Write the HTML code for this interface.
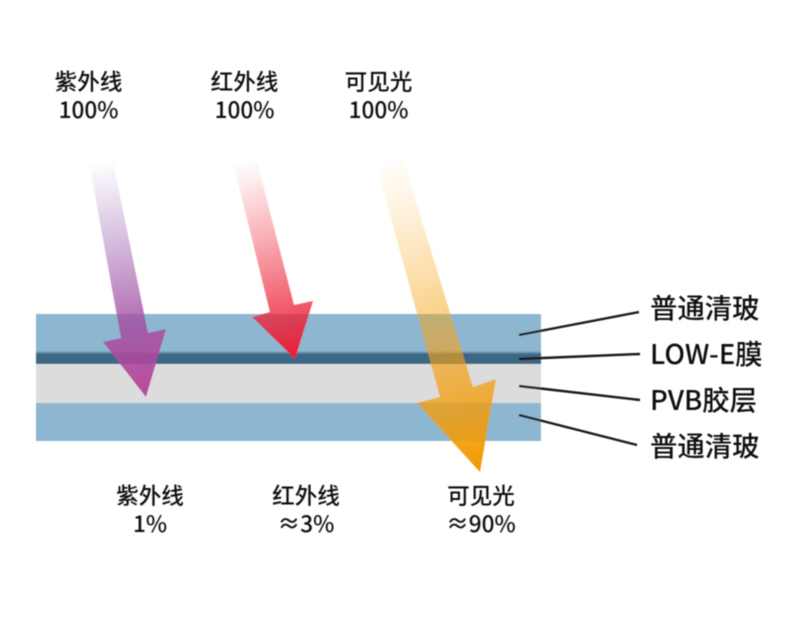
<!DOCTYPE html>
<html lang="zh">
<head>
<meta charset="utf-8">
<style>
html,body{margin:0;padding:0;background:#fff}
svg{display:block}
text{font-family:"Liberation Sans","Noto Sans CJK SC",sans-serif;fill:#111}
.t{font-family:"Noto Sans CJK SC","Liberation Sans",sans-serif;font-size:22.6px;font-weight:500;text-anchor:middle}
.r{font-family:"Noto Sans CJK SC","Liberation Sans",sans-serif;font-size:27.4px;font-weight:500}
</style>
</head>
<body>
<svg width="790" height="630" viewBox="0 0 790 630" xmlns="http://www.w3.org/2000/svg">
<defs>
<linearGradient id="p" gradientUnits="userSpaceOnUse" x1="101" y1="162" x2="146" y2="397">
<stop offset="0" stop-color="#8e5fae" stop-opacity="0"/>
<stop offset="0.35" stop-color="#9a5aaa" stop-opacity="0.42"/>
<stop offset="0.7" stop-color="#a54fa2" stop-opacity="0.85"/>
<stop offset="1" stop-color="#b8429a" stop-opacity="0.95"/>
</linearGradient>
<linearGradient id="q" gradientUnits="userSpaceOnUse" x1="245" y1="162" x2="295" y2="359">
<stop offset="0" stop-color="#ee3a4a" stop-opacity="0"/>
<stop offset="1" stop-color="#ec1c34" stop-opacity="1"/>
</linearGradient>
<linearGradient id="o" gradientUnits="userSpaceOnUse" x1="389" y1="160" x2="480" y2="472">
<stop offset="0" stop-color="#f8b133" stop-opacity="0"/>
<stop offset="1" stop-color="#f39800" stop-opacity="1"/>
</linearGradient>
<linearGradient id="band" x1="0" y1="0" x2="0" y2="1">
<stop offset="0" stop-color="#8db7d1"/>
<stop offset="0.25" stop-color="#3d6785"/>
<stop offset="1" stop-color="#3d6785"/>
</linearGradient>
<filter id="b" x="-5%" y="-5%" width="110%" height="110%"><feGaussianBlur stdDeviation="0.5"/></filter>
</defs>

<g filter="url(#b)">
<rect x="36" y="314" width="505" height="127" fill="#8db7d1"/>
<rect x="36" y="364" width="505" height="39" fill="#dcdcdc"/>
<rect x="36" y="351" width="505" height="13" fill="url(#band)"/>

<polygon points="89,162 113,162 148,333 166,329 146,397 103,342 121,338" fill="url(#p)"/>
<polygon points="233,162 257,162 294,305 313,301 295,359 252,317 270,312" fill="url(#q)"/>
<polygon points="375,160 403,160 473,387 496,379 480,472 417,403 440,397" fill="url(#o)"/>

<g stroke="#1a1718" stroke-width="2.4" fill="none">
<line x1="519" y1="335" x2="639" y2="312"/>
<line x1="519" y1="359" x2="640" y2="354"/>
<line x1="519" y1="386" x2="640" y2="400"/>
<line x1="519" y1="415" x2="637" y2="445"/>
</g>

<text class="t" x="88.5" y="90">紫外线</text>
<text class="t" x="88.5" y="118">100%</text>
<text class="t" x="244.5" y="90">红外线</text>
<text class="t" x="244.5" y="118">100%</text>
<text class="t" x="378.5" y="90">可见光</text>
<text class="t" x="378.5" y="118">100%</text>

<text class="t" x="150" y="504">紫外线</text>
<text class="t" x="150" y="532">1%</text>
<text class="t" x="306" y="504">红外线</text>
<text class="t" x="306" y="532">≈3%</text>
<text class="t" x="481" y="504">可见光</text>
<text class="t" x="481" y="532">≈90%</text>

<text class="r" x="650" y="318">普通清玻</text>
<text class="r" x="650" y="364">LOW-E膜</text>
<text class="r" x="650" y="410">PVB胶层</text>
<text class="r" x="650" y="456">普通清玻</text>
</g>
</svg>
</body>
</html>
